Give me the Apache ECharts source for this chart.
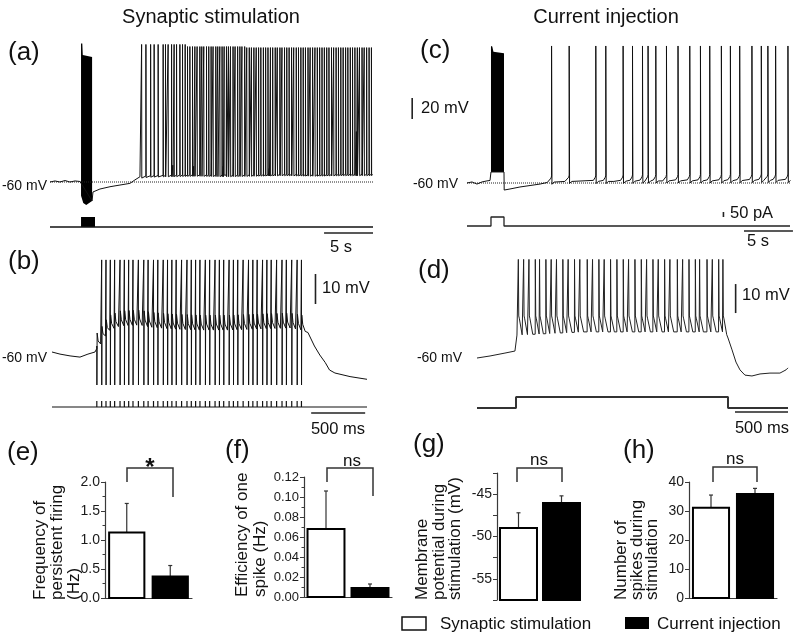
<!DOCTYPE html>
<html><head><meta charset="utf-8">
<script src="https://cdn.jsdelivr.net/npm/echarts@6/dist/echarts.min.js"></script>
<style>html,body{margin:0;padding:0;background:#fff}#c{width:800px;height:638px}</style>
</head><body><div id="c"></div>
<script>
// ---------------- DATA ----------------
// (a) synaptic stimulation, long trace: time in s, membrane potential in mV
const baseA = [[0,-60],[0.51,-59],[1.02,-60],[1.53,-58.6],[2.04,-60],[2.55,-59],[3.06,-59.5],[3.17,-59.5],
  [4.3,-78],[4.39,-69.5],[5.1,-66.7],[6.13,-64.5],[7.15,-62.9],[8.17,-61.3],[8.68,-58],[9.19,-55],
  [10,-54],[12,-53.5],[15,-53],[18,-53.5],[21,-53],[24,-52.5],[27,-53],[30,-52.5],[33,-52.5]];
const spikeTimesA = [9.36,9.8,10.28,10.64,11.05,11.56,11.8,12.07,12.42,12.68,12.93,13.27,13.54,13.81,14.05,14.29,
  14.56,14.8,15.03,15.31,15.51,15.71,15.99,16.22,16.46,16.66,16.94,17.14,17.35,17.58,17.79,18.03,18.23,18.44,18.7,
  18.91,19.17,19.4,19.61,19.89,20.1,20.36,20.58,20.83,21.07,21.31,21.54,21.8,22.03,22.27,22.52,22.75,23.01,23.22,
  23.49,23.7,23.96,24.19,24.43,24.68,24.9,25.16,25.39,25.63,25.87,26.1,26.36,26.58,26.83,27.07,27.31,27.55,27.79,
  28.03,28.27,28.5,28.76,28.98,29.23,29.47,29.71,29.95,30.2,30.43,30.68,30.91,31.15,31.4,31.62,31.88,32.1,32.35,
  32.6,32.84];
const peakLevelsA = [[0,71],[14,69],[20,68]];
const partialSpikesA = [[12.55,-44],[14.68,-45],[17.7,-45],[22.4,-47],[31.3,-12]];
const burstTopA = [[3.17,72],[3.3,72],[3.35,61],[4.3,59]];
const burstBottomA = [[4.3,-78],[4.0,-80],[3.7,-82],[3.4,-80],[3.17,-73]];
const stimWindowA = [3.17,4.6];

// (c) current injection, long trace
const baseC = [[0,-60],[0.51,-59],[1.02,-61],[1.53,-59],[2.04,-58],[2.35,-57.6],[2.45,-57.5],[2.45,-49.5],
  [3.78,-49.5],[3.8,-66.7],[4.39,-65.7],[5.41,-63.8],[6.44,-62.4],[7.46,-61],[8.2,-59.5],
  [10,-58.5],[15,-58.5],[20,-58],[25,-58],[30,-57.5],[33,-57.5]];
const spikeTimesC = [8.64,10.44,13.16,14.18,15.95,16.91,17.93,18.5,19.29,20.38,21.56,22.76,23.85,24.8,25.99,
  26.91,27.86,29.11,30.07,30.74,31.53,32.79];
const spikePeakC = 70.5;
const burstTopC = [[2.45,70.5],[2.58,70],[2.7,65],[3.78,63.5]];
const burstBottomC = [[3.78,-49.5],[2.45,-49.5]];
const stimPulseC = [2.45,3.78];
const stimAmpC = 90; // pA

// (b) synaptic stimulation, expanded trace
const baseB = [[0,-59],[0.074,-59.7],[0.167,-60.3],[0.259,-60.7],[0.333,-59.7],[0.398,-59],[0.417,-57.7],
  [0.444,-56.7],[0.481,-54.3],[0.537,-51.7],[0.63,-50.3],[0.815,-50],[0.907,-50.7],[1.093,-51.3],[1.37,-51.7],
  [1.648,-51.7],[1.926,-51.3],[2.204,-51],[2.315,-51.7],[2.37,-52.5],[2.43,-57],[2.48,-60],[2.53,-62.5],
  [2.57,-65],[2.62,-66],[2.76,-67.2],[2.917,-68.1]];
const spikeTimesB = [0.46,0.50,0.54,0.58,0.63,0.67,0.71,0.75,0.80,0.85,0.89,0.94,0.98,1.03,1.07,1.11,1.15,1.20,
  1.25,1.29,1.33,1.37,1.42,1.46,1.51,1.55,1.59,1.64,1.68,1.72,1.77,1.82,1.86,1.90,1.95,1.99,2.03,2.08,2.13,2.17,
  2.22,2.27,2.31];
const spikePeakB = -28.3, artifactTroughB = -70;
const firstArtifactB = [[0.415,-57]];

// (d) current injection, expanded trace
const baseD = [[0,-60],[0.123,-59.3],[0.264,-58.3],[0.358,-57.6],[0.368,-57.4],[0.377,-52.1],[1.0,-51],[1.5,-51],
  [2.0,-51],[2.34,-51],[2.35,-51.4],[2.368,-53.1],[2.406,-57.2],[2.443,-61.4],[2.481,-64.1],[2.528,-65.9],
  [2.594,-66.2],[2.67,-65.5],[2.764,-65.2],[2.858,-65.2],[2.915,-64.1],[2.934,-63.4]];
const spikeTimesD = [0.39,0.44,0.49,0.55,0.59,0.65,0.70,0.75,0.81,0.86,0.92,0.97,1.04,1.09,1.15,1.20,1.26,1.32,
  1.38,1.43,1.49,1.55,1.60,1.66,1.71,1.77,1.82,1.89,1.94,2.00,2.06,2.10,2.17,2.22,2.28,2.32];
const spikePeakD = -26, adpD = -45.5;
const stepD = [0.368,2.368];

// bar charts: [mean, sem] for [synaptic stimulation, current injection]
const groups = ['Synaptic stimulation','Current injection'];
const freqPersistent = [[1.13,0.50],[0.37,0.19]];
const efficiencyOneSpike = [[0.068,0.038],[0.009,0.004]];
const membranePotential = [[-49.0,1.8],[-46.05,0.85]];
const spikesDuring = [[31.1,4.4],[35.9,1.9]];

// ---------------- BUILD ----------------
const FONT = "'Liberation Sans', Arial, sans-serif";
function interp(pts,t){
  if(t<=pts[0][0]) return pts[0][1];
  for(let i=1;i<pts.length;i++){ if(t<=pts[i][0]){const a=pts[i-1],b=pts[i];const d=b[0]-a[0];return d<=0?b[1]:a[1]+(b[1]-a[1])*(t-a[0])/d;} }
  return pts[pts.length-1][1];
}
function buildTrace(base,spikes,tpl){
  const pre=Math.min(...tpl.map(p=>p[0])), post=Math.max(...tpl.map(p=>p[0]));
  const out=base.filter(p=>!spikes.some(s=>p[0]>=s[0]+pre-1e-9&&p[0]<=s[0]+post+1e-9));
  spikes.forEach(s=>{const t=s[0],pk=s[1];tpl.forEach(([dt,v,mode])=>{let y;
    if(mode==='peak')y=pk;else if(mode==='abs')y=v;else y=interp(base,t+dt)+v;out.push([t+dt,y]);});});
  out.sort((a,b)=>a[0]-b[0]);
  return out;
}
function peakForA(t){let p=peakLevelsA[0][1];peakLevelsA.forEach(l=>{if(t>=l[0])p=l[1];});return p;}

const traceA = buildTrace(baseA, spikeTimesA.map(t=>[t,peakForA(t)]).concat(partialSpikesA),
  [[0,0,'rel'],[0,0,'peak'],[0.02,-1.5,'rel'],[0.09,0,'rel']]);
const traceC = buildTrace(baseC, spikeTimesC.map(t=>[t,spikePeakC]),
  [[-0.25,1,'rel'],[-0.05,4,'rel'],[0,6,'rel'],[0,0,'peak'],[0.04,-2,'rel'],[0.25,0,'rel']]);
const traceB = buildTrace(baseB, spikeTimesB.map(t=>[t,spikePeakB]).concat(firstArtifactB),
  [[0,0,'rel'],[0,0,'peak'],[0.0008,artifactTroughB,'abs'],[0.003,5,'rel'],[0.012,2,'rel'],[0.035,0,'rel']]);
const traceD = buildTrace(baseD, spikeTimesD.map(t=>[t,spikePeakD]),
  [[-0.001,0,'rel'],[0,0,'peak'],[0.004,adpD,'abs'],[0.01,adpD-1,'abs'],[0.036,0,'rel']]);

const stimTimesB = [0.415].concat(spikeTimesB);
const stimB = [[0,0]]; stimTimesB.forEach(t=>{stimB.push([t,0],[t,0.6],[t,0]);}); stimB.push([2.917,0]);

const chart = echarts.init(document.getElementById('c'), null, {renderer:'canvas'});

const grids = [
  {left:50,top:35,width:323,height:189},   //0 A
  {left:50,top:217,width:323,height:20},   //1 A stim
  {left:467,top:36,width:323,height:189},  //2 C
  {left:467,top:206,width:323,height:30},  //3 C stim
  {left:52,top:235,width:315,height:165},  //4 B
  {left:52,top:397,width:315,height:20},   //5 B stim
  {left:477,top:242,width:311,height:159.5}, //6 D
  {left:477,top:397,width:311,height:22},  //7 D stim
  {left:105,top:482,width:87,height:116},  //8 e
  {left:304,top:477,width:88,height:120},  //9 f
  {left:497,top:473,width:86,height:127},  //10 g
  {left:689,top:482,width:88,height:116}   //11 h
];
const hx = (i,min,max)=>({gridIndex:i,type:'value',min,max,show:false});
const hy = hx;
const xAxes = [hx(0,0,33),hx(1,0,33),hx(2,0,33),hx(3,0,33),hx(4,0,2.917),hx(5,0,2.917),hx(6,0,2.934),hx(7,0,2.934)];
const yAxes = [hy(0,-100,80),hy(1,-1,1),hy(2,-100,80),hy(3,-100,200),hy(4,-75,-20),hy(5,-1,1),hy(6,-75,-20),hy(7,-1,1)];
const AX = '#3a3a3a', LBL = '#1a1a1a';
function catX(i,showLine){return {gridIndex:i,type:'category',data:groups,boundaryGap:true,
  axisLine:{show:showLine,lineStyle:{color:AX,width:1.2}},axisTick:{show:false},axisLabel:{show:false},splitLine:{show:false}};}
function valY(i,min,max,interval,fmt,fs,minor){return {gridIndex:i,type:'value',min,max,interval,
  axisLine:{show:true,lineStyle:{color:AX,width:1.2}},axisTick:{show:true,length:4,lineStyle:{color:AX}},
  minorTick:{show:!!minor,splitNumber:2,length:2.5,lineStyle:{color:AX}},
  splitLine:{show:false},minorSplitLine:{show:false},
  axisLabel:{formatter:fmt,fontFamily:FONT,fontSize:fs,color:LBL,margin:5}};}
xAxes.push(catX(8,true),catX(9,true),catX(10,false),catX(11,true));
yAxes.push(valY(8,0,2,0.5,v=>v.toFixed(1),14,true));
yAxes.push(valY(9,0,0.12,0.02,v=>v.toFixed(2),13,true));
yAxes.push(valY(10,-57.5,-42.5,2.5,v=>(Math.abs(v%5)<1e-6?String(v):''),14,false));
yAxes.push(valY(11,0,40,10,v=>String(v),14,false));

const lineS = (ax,data,opt={})=>Object.assign({type:'line',xAxisIndex:ax,yAxisIndex:ax,data,symbol:'none',
  showSymbol:false,animation:false,silent:true,clip:false,lineStyle:{color:'#111',width:1}},opt);
function polyS(ax,top,bottom){const pts=top.concat(bottom);return {type:'custom',xAxisIndex:ax,yAxisIndex:ax,
  data:[[pts[0][0],pts[0][1]]],silent:true,animation:false,
  renderItem:(p,api)=>({type:'polygon',shape:{points:pts.map(q=>api.coord(q))},style:{fill:'#000'}})};}
function rectS(ax,t0,t1,h){return {type:'custom',xAxisIndex:ax,yAxisIndex:ax,data:[[t0,h]],silent:true,animation:false,
  renderItem:(p,api)=>{const a=api.coord([t0,h]),b=api.coord([t1,0]);return {type:'rect',shape:{x:a[0],y:a[1],width:b[0]-a[0],height:b[1]-a[1]},style:{fill:'#000'}};}};}
// scale bar drawn through the panel's own axes (not clipped)
function sbS(ax,p1,p2){return {type:'custom',xAxisIndex:ax,yAxisIndex:ax,data:[[p1[0],p1[1]]],silent:true,animation:false,clip:false,
  renderItem:(p,api)=>{const a=api.coord(p1),b=api.coord(p2);return {type:'line',shape:{x1:a[0],y1:a[1],x2:b[0],y2:b[1]},style:{stroke:'#222',lineWidth:1.6}};}};}
function barS(ax,vals,baseVal,ratio){return {type:'custom',xAxisIndex:ax,yAxisIndex:ax,animation:false,silent:true,
  data:vals.map((v,i)=>[i,v[0],v[1],i]),encode:{x:0,y:1},
  renderItem:(p,api)=>{const i=api.value(0),m=api.value(1),e=api.value(2),dark=api.value(3);
    const top=api.coord([i,m]),bot=api.coord([i,baseVal]),et=api.coord([i,m+e]);const w=api.size([1,0])[0]*ratio;
    return {type:'group',children:[
      {type:'line',shape:{x1:top[0],y1:top[1],x2:et[0],y2:et[1]},style:{stroke:'#333',lineWidth:1.2}},
      {type:'line',shape:{x1:top[0]-2,y1:et[1],x2:top[0]+2,y2:et[1]},style:{stroke:'#333',lineWidth:1.2}},
      {type:'rect',shape:{x:top[0]-w/2,y:top[1],width:w,height:bot[1]-top[1]},style:{fill:dark?'#000':'#fff',stroke:'#000',lineWidth:2}}]};}};}

const series = [
  // (a)
  lineS(0,[[0,-60],[33,-60]],{lineStyle:{color:'#222',width:1,type:'dotted'}}),
  lineS(0,traceA),
  polyS(0,burstTopA,burstBottomA),
  lineS(1,[[0,0],[33,0]],{lineStyle:{color:'#111',width:1.5}}),
  rectS(1,stimWindowA[0],stimWindowA[1],1),
  sbS(1,[28,-0.6],[33,-0.6]),
  // (c)
  lineS(2,[[0,-60],[33,-60]],{lineStyle:{color:'#222',width:1,type:'dotted'}}),
  lineS(2,traceC),
  polyS(2,burstTopC,burstBottomC),
  lineS(3,[[0,0],[stimPulseC[0],0],[stimPulseC[0],stimAmpC],[stimPulseC[1],stimAmpC],[stimPulseC[1],0],[33,0]],{lineStyle:{color:'#222',width:1.3}}),
  sbS(3,[28.3,-50],[33.3,-50]),
  sbS(3,[26.2,90],[26.2,140]),
  sbS(2,[-5.6,1],[-5.6,21]),
  // (b)
  lineS(4,traceB),
  lineS(5,stimB,{lineStyle:{color:'#111',width:1.2}}),
  sbS(5,[2.4,-0.6],[2.9,-0.6]),
  sbS(4,[2.44,-43],[2.44,-33]),
  // (d)
  lineS(6,traceD,{lineStyle:{color:'#222',width:1}}),
  lineS(7,[[0,0],[stepD[0],0],[stepD[0],1],[stepD[1],1],[stepD[1],0],[2.934,0]],{lineStyle:{color:'#333',width:2}}),
  sbS(7,[2.434,-0.36],[2.934,-0.36]),
  sbS(6,[2.44,-44.5],[2.44,-34.5]),
  // bars
  barS(8,freqPersistent,0,0.81),
  barS(9,efficiencyOneSpike,0,0.84),
  barS(10,membranePotential,-57.5,0.86),
  barS(11,spikesDuring,0,0.82)
];

const T = (text,x,y,fs,opt={})=>({type:'text',x,y,silent:true,style:Object.assign({text,fontFamily:FONT,fontSize:fs,fill:'#111',align:'left',verticalAlign:'middle'},opt)});
const RT = (text,x,y,lh)=>({type:'text',x,y,rotation:Math.PI/2,silent:true,style:{text,fontFamily:FONT,fontSize:17,lineHeight:lh,fill:'#111',align:'left',verticalAlign:'middle'}});
const PL = (pts)=>({type:'polyline',silent:true,shape:{points:pts},style:{stroke:'#333',lineWidth:1.5,fill:null}});
const graphics = [
  T('Synaptic stimulation',211,17,20,{align:'center'}),
  T('Current injection',606,17,20,{align:'center'}),
  T('(a)',8,53,26), T('(c)',420,51,26), T('(b)',8,262,26), T('(d)',418,271,26),
  T('(e)',7,453,26), T('(f)',225,451,26), T('(g)',413,445,26), T('(h)',623,451,26),
  T('-60 mV',47,186,14,{align:'right'}), T('-60 mV',458,184,14,{align:'right'}),
  T('-60 mV',47,358,14,{align:'right'}), T('-60 mV',462,358,14,{align:'right'}),
  T('20 mV',421,108,16.5), T('10 mV',322,288,16.5), T('10 mV',742,295,16.5), T('50 pA',730,213,16.5),
  T('5 s',341,247,16.5,{align:'center'}), T('5 s',758,241,16.5,{align:'center'}),
  T('500 ms',338,429,16.5,{align:'center'}), T('500 ms',762,428,16.5,{align:'center'}),
  RT('Frequency of\npersistent firing\n(Hz)',57,600,17),
  RT('Efficiency of one\nspike (Hz)',251,597,18),
  RT('Membrane\npotential during\nstimulation (mV)',439,600,16.5),
  RT('Number of\nspikes during\nstimulation',637,600,15.5),
  PL([[127,482],[127,468],[173,468],[173,497]]),
  PL([[327,482],[327,468],[373,468],[373,496]]),
  PL([[517,482],[517,468],[562,468],[562,482]]),
  PL([[713,482],[713,467],[757,467],[757,482]]),
  T('*',150,468,24,{align:'center',fontWeight:'bold'}),
  T('ns',352,461,17,{align:'center'}), T('ns',539,460,17,{align:'center'}), T('ns',735,459,17,{align:'center'}),
  {type:'rect',silent:true,shape:{x:402,y:617,width:24,height:13},style:{fill:'#fff',stroke:'#111',lineWidth:1.5}},
  T('Synaptic stimulation',440,624,17),
  {type:'rect',silent:true,shape:{x:625,y:617,width:24,height:12},style:{fill:'#000'}},
  T('Current injection',657,624,17)
];

chart.setOption({animation:false,backgroundColor:'#fff',grid:grids,xAxis:xAxes,yAxis:yAxes,series,graphic:{elements:graphics}});
</script></body></html>
